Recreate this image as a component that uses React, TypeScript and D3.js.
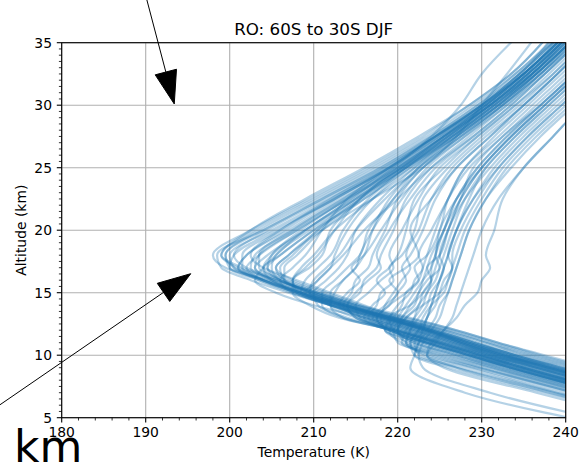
import React from "react";
import * as d3 from "d3";

// Altitude levels (km) at which each temperature profile is sampled
const ALTITUDE_KM = [4, 7, 9, 10, 11, 12, 13, 14, 15, 16, 17, 18, 20, 22.5, 25, 27.5, 30, 32.5, 36];

// Temperature profiles (K), one value per altitude level
const SUBTROPICAL_PROFILES = [
  [268, 250, 239, 233.5, 228.5, 223.5, 218, 212, 207, 202.5, 199, 198.5, 204, 211, 218, 224, 229.5, 234, 240],
  [271, 253, 241.5, 236, 231, 226, 219.5, 213.5, 208.5, 204, 200.5, 200, 205, 212, 219, 225, 230.5, 235, 241],
  [267, 248.5, 237.5, 232, 227.5, 223, 217.5, 212, 207.5, 203.5, 201, 202, 207, 213, 219.5, 225.5, 231, 236, 242],
  [266, 247.5, 236.5, 231, 226.5, 222, 216, 210, 205.5, 203, 204, 205.5, 209, 215, 221, 226, 231, 235.5, 241],
  [272, 254, 242.5, 237, 232, 227, 221, 215, 210, 205.5, 201.5, 199, 203, 210, 217, 223.5, 229, 234, 239.5],
  [269.5, 251, 240, 234.5, 229.5, 224.5, 219, 213.5, 208.5, 204.5, 201, 202, 206.5, 212.5, 219, 224.5, 230, 235, 240.5],
  [267.5, 249, 238, 232.5, 228, 223.5, 218, 212.5, 208, 205, 204, 206, 210, 216, 221, 227, 232, 236, 241],
  [270, 251.5, 240.5, 235, 230.5, 225.5, 220, 214, 209, 204.5, 199.5, 198, 202.5, 209.5, 216.5, 223, 228.5, 233.5, 238.5],
  [269, 250.5, 239.5, 234, 229.5, 225, 219.5, 214, 209, 205, 202.5, 203, 207.5, 213.5, 220, 226, 231.5, 236, 241.5],
  [267, 248.5, 237.5, 232, 227.5, 223.5, 218.5, 213, 208.5, 205, 203, 204.5, 209, 214.5, 220.5, 226.5, 231.5, 236.5, 242],
  [271.5, 253, 242, 236.5, 231.5, 226.5, 220.5, 215, 210.5, 206, 202, 200.5, 204.5, 211.5, 218.5, 224.5, 230, 234.5, 240],
  [268, 249.5, 238.5, 233, 228.5, 224, 219, 213.5, 208.5, 204, 200.5, 199.5, 203.5, 210.5, 217.5, 224, 229.5, 234.5, 239],
  [269, 250.5, 239.5, 234, 229, 224.5, 219, 213, 208, 203.5, 200, 200.5, 205.5, 212.5, 219, 225, 230, 234.5, 240],
  [266.5, 248, 237, 231.5, 227.5, 223.5, 218.5, 213, 208, 204, 202, 203.5, 208, 214, 220.5, 226, 231, 235.5, 241],
  [272.5, 254, 243, 237.5, 232, 227, 221.5, 215.5, 210.5, 205.5, 201, 199, 202.5, 209, 216, 222.5, 228.5, 233.5, 238.5],
  [268, 249.5, 238.5, 233, 228.5, 224, 218.5, 213, 208, 204, 201.5, 201.5, 206, 212, 218.5, 224.5, 230.5, 235.5, 241],
  [266, 247.5, 236.5, 231, 227, 223, 218.5, 213.5, 209.5, 206.5, 205.5, 207, 211, 217, 223, 227, 230, 233, 237],
  [270.5, 252, 241, 235.5, 230.5, 225.5, 219.5, 213.5, 208.5, 204, 200, 199.5, 204, 211, 218, 224.5, 230, 235, 240],
  [267.5, 249, 238, 232.5, 228, 224, 219.5, 214, 209.5, 206, 204, 205, 209, 214.5, 219.5, 224, 227.5, 230, 235],
];

const MIDLATITUDE_PROFILES = [
  [263.5, 245.5, 234.5, 229.5, 224.5, 219.5, 213, 209.5, 207.5, 207.5, 209.5, 211, 212, 215.5, 220, 225.5, 231, 235.5, 241],
  [264, 246, 235, 230, 225, 220.5, 216, 212, 209, 210.5, 212, 212.5, 214, 217, 221.5, 227, 232, 236.5, 242],
  [263, 245, 234, 229, 224, 219.5, 215, 212, 212.5, 213.5, 215, 216, 217, 219, 222.5, 227.5, 232.5, 237, 243],
  [262.5, 244.5, 233.5, 228.5, 223.5, 219, 215, 214, 215.5, 216, 217.5, 218, 219.5, 221, 224, 228.5, 233, 237.5, 243],
  [263, 245, 234, 229, 224, 219.5, 216.5, 217.5, 218, 219.5, 219, 220.5, 222, 223, 226, 230, 234.5, 238.5, 244],
  [262, 244, 233, 228, 223, 218.5, 219, 220, 221.5, 222, 223, 222.5, 224, 226, 228, 232, 236, 240, 245],
  [263.5, 245.5, 234.5, 229.5, 224.5, 220, 217, 218.5, 220, 219, 221, 222.5, 221.5, 224, 227, 231, 235, 239, 244],
  [264.5, 246.5, 235.5, 230.5, 225.5, 220, 214, 210.5, 210, 211.5, 213, 214, 215, 218, 222, 226.5, 231.5, 236, 241.5],
  [264, 246, 235, 230, 225, 220.5, 216, 213, 214, 215.5, 214.5, 216, 218, 220.5, 223.5, 228, 233, 237, 242.5],
  [263.5, 245.5, 234.5, 229.5, 224.5, 220, 215.5, 215, 216.5, 218, 219.5, 219, 220.5, 222.5, 225, 229.5, 234, 238, 243.5],
  [265, 247, 236, 231, 226, 221.5, 217, 212.5, 207.5, 206, 207.5, 209, 211, 214, 219, 224.5, 230, 235, 240.5],
  [261.5, 243.5, 232.5, 227.5, 222.5, 219.5, 219, 221.5, 223, 224, 223.5, 225, 226, 227.5, 229, 232.5, 237, 241, 246],
  [262.5, 244.5, 233.5, 228.5, 223.5, 219, 216, 217, 218.5, 217.5, 219, 220, 221, 222, 225.5, 229.5, 234, 238.5, 243.5],
  [264, 246, 235, 230, 225, 219.5, 213.5, 211, 211, 212.5, 214, 215.5, 216.5, 219.5, 223, 227.5, 232.5, 236.5, 242],
  [262.5, 244.5, 233.5, 228.5, 223.5, 219, 215, 214, 215, 216.5, 218, 217.5, 219, 221.5, 224.5, 229, 233.5, 237.5, 243],
  [261, 243, 232, 227, 222, 220, 221, 223, 225, 226, 226.5, 226, 227, 228.5, 230.5, 234, 238, 242, 247],
  [262.5, 244.5, 233.5, 228.5, 223.5, 219, 217.5, 219, 221, 222.5, 222, 223.5, 225, 226, 228, 231.5, 235.5, 239.5, 245],
  [264.5, 246.5, 235.5, 230.5, 225.5, 221, 216.5, 212, 208.5, 209, 210.5, 212, 213.5, 216.5, 221, 226, 231, 235.5, 241],
  [263.5, 245.5, 234.5, 229.5, 224.5, 220, 215.5, 213.5, 214.5, 215, 216.5, 217, 218.5, 220, 223, 228, 232.5, 237, 242.5],
  [264, 246, 235, 230, 225, 219.5, 213.5, 212, 212, 213.5, 215, 215.5, 217, 219.5, 222.5, 227, 232, 236.5, 242],
  [262.5, 244.5, 233.5, 228.5, 223.5, 219, 217.5, 219, 220, 221, 220.5, 221.5, 223, 224.5, 227, 231, 235, 239, 244.5],
  [265.5, 247.5, 236.5, 231.5, 226.5, 222, 217.5, 212, 208, 207.5, 209, 210.5, 212.5, 215.5, 220.5, 225.5, 230.5, 235, 240.5],
  [262, 244, 233, 228, 223, 218.5, 218, 218.5, 219.5, 220.5, 221.5, 221, 222.5, 224, 226.5, 230.5, 235, 239, 244],
  [261, 243, 232, 227, 222, 220, 220.5, 222, 222.5, 223.5, 225, 224.5, 225.5, 227, 229.5, 233, 237, 241, 246],
  [267, 249, 238, 233, 228, 223.5, 219, 215, 211, 207, 204.5, 205, 208.5, 214, 220, 225.5, 231, 235.5, 241],
  [266, 248, 237, 232, 227, 222.5, 218, 214, 210, 206.5, 206.5, 208, 211, 216, 221.5, 226.5, 231.5, 236, 241.5],
  [266.5, 248.5, 237.5, 232.5, 227.5, 223, 218.5, 214.5, 210.5, 206.5, 203.5, 203.5, 207.5, 213.5, 219.5, 225, 230.5, 235, 240.5],
  [267.5, 249.5, 238.5, 233.5, 228.5, 224, 219.5, 215.5, 211.5, 207.5, 205.5, 207, 210.5, 215.5, 221, 226.5, 231.5, 236, 241.5],
  [265.5, 247.5, 236.5, 231.5, 226.5, 222, 217.5, 213, 209.5, 210, 211.5, 213, 215, 218.5, 222.5, 227.5, 232.5, 237, 242],
  [268, 250, 239, 234, 229, 224.5, 220, 216, 212, 208, 204, 202.5, 206, 212.5, 219, 224.5, 230, 234.5, 240],
  [260, 242, 231, 226, 221, 220, 221, 222.5, 223, 224, 224.5, 225, 226, 227.5, 230, 233.5, 237.5, 241.5, 246.5],
  [259, 241, 230, 225, 220, 219.5, 220.5, 221.5, 222.5, 223, 223.5, 224, 225.5, 227, 229.5, 233, 237, 241, 246],
  [260.5, 242.5, 231.5, 226.5, 221.5, 218.5, 219.5, 220.5, 221, 222.5, 223, 223.5, 224.5, 226, 228.5, 232.5, 236.5, 240.5, 245.5],
  [267, 248.5, 237.5, 232, 227, 222.5, 218, 213.5, 209.5, 206.5, 206, 207.5, 210.5, 215.5, 221, 226.5, 232, 236.5, 242],
  [269, 250.5, 239.5, 234, 229, 224, 219, 214.5, 210, 206, 204.5, 206, 210, 215, 220.5, 226, 231, 236, 241],
  [266, 247.5, 236.5, 231, 226, 221.5, 217, 212.5, 208.5, 207.5, 208.5, 210, 212.5, 217, 222, 227, 232, 236.5, 242],
  [268, 249.5, 238.5, 233, 228, 223.5, 218.5, 214, 209.5, 205.5, 203, 203.5, 208, 214, 220, 225.5, 230.5, 235, 240.5],
  [265, 246.5, 235.5, 230.5, 225.5, 221, 216.5, 212, 209.5, 210.5, 212, 213.5, 216, 220, 224, 229, 233.5, 237.5, 243],
  [267.5, 249, 238, 232.5, 227.5, 223, 218.5, 214, 210, 206, 205, 205.5, 209.5, 215, 220.5, 225.5, 230.5, 235, 240.5],
];

const HIGHLATITUDE_PROFILES = [
  [257, 239, 228.5, 223, 221.5, 222.5, 223.5, 224, 224.5, 225, 225.5, 226, 227, 229, 231.5, 235, 239, 243, 248],
  [255, 237.5, 226, 222, 222.5, 223.5, 224.5, 225, 226, 226.5, 227, 227.5, 228.5, 230.5, 233, 236.5, 240.5, 244, 249],
  [259, 241, 230, 224.5, 220.5, 221, 222, 223, 223.5, 224.5, 225, 225.5, 226.5, 228, 230.5, 234, 238, 242, 247],
  [260, 242, 231, 225.5, 220.5, 219, 220, 221, 222, 223, 224, 224.5, 225, 227, 230, 233.5, 237.5, 241.5, 246.5],
  [254, 236.5, 225.5, 223.5, 224.5, 225.5, 226.5, 227, 227.5, 228, 228.5, 229, 230, 232, 235, 238.5, 242, 246, 250],
  [258, 240, 229, 223.5, 221, 221.5, 222, 222.5, 223.5, 224, 224, 224.5, 225.5, 227.5, 230, 233.5, 237.5, 241.5, 246],
  [256, 238.5, 227, 222, 221.5, 222.5, 223, 224, 225.5, 226, 226.5, 227, 228, 230, 232.5, 236, 240, 244, 248.5],
  [248, 228, 221.5, 222, 222.5, 223, 223.5, 224, 224.5, 225, 225.5, 226, 227, 229, 232, 235.5, 239.5, 243.5, 248],
  [250, 231, 223, 222.5, 223, 224, 225, 225.5, 226, 226.5, 227, 227.5, 228.5, 230.5, 233.5, 237, 241, 245, 249],
  [256.5, 239, 227.5, 222.5, 222, 223, 223.5, 224.5, 225, 225.5, 226.5, 226.5, 227.5, 229.5, 232, 235.5, 239.5, 243.5, 248],
  [259, 241, 229.5, 224, 221, 221.5, 222.5, 223.5, 224, 225, 225.5, 225, 226, 228, 231, 234.5, 238.5, 242.5, 247],
  [255, 238, 227, 223.5, 224, 225.5, 227, 228, 229.5, 230, 231, 230.5, 231.5, 232.5, 235, 238.5, 242, 246, 250],
];

const X_TICKS = [180, 190, 200, 210, 220, 230, 240];
const Y_TICKS = [5, 10, 15, 20, 25, 30, 35];
const TITLE = "RO: 60S to 30S DJF";
const X_LABEL = "Temperature (K)";
const Y_LABEL = "Altitude (km)";
const CORNER_TEXT = "km";

// Annotation arrows in data coordinates: [temperature, altitude]
const ARROW_FROM = [
  [190.14, 38.42],
  [172.62, 6.02],
];
const ARROW_TO = [
  [193.4, 30.1],
  [195.36, 16.52],
];

const W = 583;
const H = 468;
const LEFT = 61.7;
const RIGHT = 565.7;
const TOP = 42.7;
const BOTTOM = 417.7;
const FONT = "'DejaVu Sans', sans-serif";
const BLUE = "#1f77b4";

export default function App() {
  const x = d3.scaleLinear().domain([180, 240]).range([LEFT, RIGHT]);
  const y = d3.scaleLinear().domain([5, 35]).range([BOTTOM, TOP]);

  const allProfiles = [...SUBTROPICAL_PROFILES, ...MIDLATITUDE_PROFILES, ...HIGHLATITUDE_PROFILES];

  const line = d3
    .line<[number, number]>()
    .x((d) => x(d[0]))
    .y((d) => y(d[1]))
    .curve(d3.curveMonotoneY);

  const paths = allProfiles.map((temps) => {
    const pts: [number, number][] = [];
    const n = Math.min(temps.length, ALTITUDE_KM.length);
    for (let i = n - 1; i >= 0; i--) pts.push([temps[i], ALTITUDE_KM[i]]);
    return line(pts) || "";
  });

  const xMinor = d3.range(180, 240.001, 2).filter((v) => v % 10 !== 0);
  const yMinor = d3.range(5, 35.001, 0.5).filter((v) => v % 5 !== 0);

  const arrows = ARROW_FROM.map((from, i) => {
    const sx = x(from[0]);
    const sy = y(from[1]);
    const tx = x(ARROW_TO[i][0]);
    const ty = y(ARROW_TO[i][1]);
    const dx = tx - sx;
    const dy = ty - sy;
    const len = Math.hypot(dx, dy);
    const ux = dx / len;
    const uy = dy / len;
    const headLen = 33;
    const halfW = 11;
    const bx = tx - ux * headLen;
    const by = ty - uy * headLen;
    const nx = -uy;
    const ny = ux;
    return {
      sx,
      sy,
      bx,
      by,
      head: `${tx},${ty} ${bx + nx * halfW},${by + ny * halfW} ${bx - nx * halfW},${by - ny * halfW}`,
    };
  });

  return (
    <svg
      width={W}
      height={H}
      viewBox={`0 0 ${W} ${H}`}
      style={{ position: "absolute", left: 0, top: 0, background: "#fff" }}
      fontFamily={FONT}
    >
      <defs>
        <clipPath id="plotClip">
          <rect x={LEFT} y={TOP} width={RIGHT - LEFT} height={BOTTOM - TOP} />
        </clipPath>
      </defs>
      <rect x={0} y={0} width={W} height={H} fill="#fff" />

      {/* grid */}
      <g stroke="#b0b0b0" strokeWidth={1.1}>
        {X_TICKS.map((t) => (
          <line key={"gx" + t} x1={x(t)} x2={x(t)} y1={TOP} y2={BOTTOM} />
        ))}
        {Y_TICKS.map((t) => (
          <line key={"gy" + t} x1={LEFT} x2={RIGHT} y1={y(t)} y2={y(t)} />
        ))}
      </g>

      {/* profiles */}
      <g clipPath="url(#plotClip)" fill="none" stroke={BLUE} strokeWidth={2.2} strokeOpacity={0.33}>
        {paths.map((d, i) => (
          <path key={i} d={d} />
        ))}
      </g>

      {/* spines */}
      <rect x={LEFT} y={TOP} width={RIGHT - LEFT} height={BOTTOM - TOP} fill="none" stroke="#000" strokeWidth={1.1} />

      {/* ticks */}
      <g stroke="#000">
        {X_TICKS.map((t) => (
          <line key={"tx" + t} x1={x(t)} x2={x(t)} y1={BOTTOM} y2={BOTTOM + 4.9} strokeWidth={1.1} />
        ))}
        {xMinor.map((t) => (
          <line key={"mx" + t} x1={x(t)} x2={x(t)} y1={BOTTOM} y2={BOTTOM + 2.8} strokeWidth={0.8} />
        ))}
        {Y_TICKS.map((t) => (
          <line key={"ty" + t} x1={LEFT - 4.9} x2={LEFT} y1={y(t)} y2={y(t)} strokeWidth={1.1} />
        ))}
        {yMinor.map((t) => (
          <line key={"my" + t} x1={LEFT - 2.8} x2={LEFT} y1={y(t)} y2={y(t)} strokeWidth={0.8} />
        ))}
      </g>

      {/* tick labels */}
      <g fontSize={13.9} fill="#000">
        {X_TICKS.map((t) => (
          <text key={"lx" + t} x={x(t)} y={BOTTOM + 19.6} textAnchor="middle">
            {t}
          </text>
        ))}
        {Y_TICKS.map((t) => (
          <text key={"ly" + t} x={LEFT - 9.7} y={y(t) + 5} textAnchor="end">
            {t}
          </text>
        ))}
      </g>

      {/* axis labels and title */}
      <text x={(LEFT + RIGHT) / 2} y={457} fontSize={13.9} textAnchor="middle">
        {X_LABEL}
      </text>
      <text
        transform={`translate(25.5, ${(TOP + BOTTOM) / 2}) rotate(-90)`}
        fontSize={13.9}
        textAnchor="middle"
      >
        {Y_LABEL}
      </text>
      <text x={(LEFT + RIGHT) / 2} y={34.5} fontSize={16.7} textAnchor="middle">
        {TITLE}
      </text>

      {/* annotation arrows */}
      {arrows.map((a, i) => (
        <g key={"ar" + i}>
          <line x1={a.sx} y1={a.sy} x2={a.bx} y2={a.by} stroke="#000" strokeWidth={1} />
          <polygon points={a.head} fill="#000" stroke="#000" strokeWidth={1} />
        </g>
      ))}

      {/* corner text */}
      <text x={14} y={462} fontSize={44} fill="#000">
        {CORNER_TEXT}
      </text>
    </svg>
  );
}
